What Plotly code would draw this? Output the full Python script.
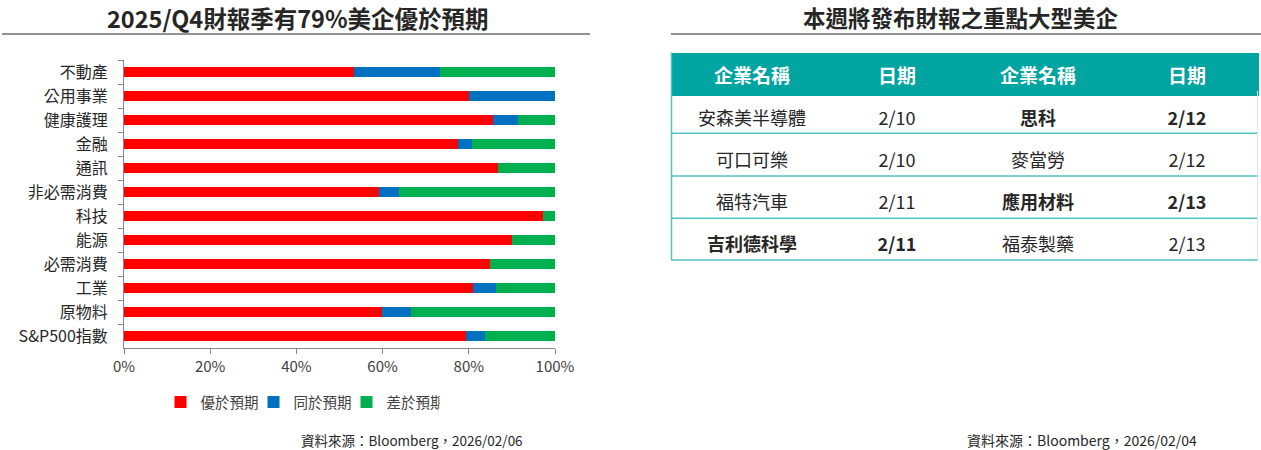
import plotly.graph_objects as go

# ---------------- data ----------------
categories = ["不動產", "公用事業", "健康護理", "金融", "通訊", "非必需消費",
              "科技", "能源", "必需消費", "工業", "原物料", "S&P500指數"]
beat = [53.3, 80.0, 85.7, 77.4, 86.8, 59.1, 97.3, 90.0, 85.0, 80.9, 59.9, 79.4]
inline = [20.0, 20.0, 5.7, 3.3, 0.0, 4.6, 0.0, 0.0, 0.0, 5.3, 6.8, 4.4]
miss = [26.7, 0.0, 8.6, 19.3, 13.2, 36.3, 2.7, 10.0, 15.0, 13.8, 33.3, 16.2]
series_names = ["優於預期", "同於預期", "差於預期"]
x_ticks = [0, 20, 40, 60, 80, 100]
x_tick_text = ["0%", "20%", "40%", "60%", "80%", "100%"]

left_title = "2025/Q4財報季有79%美企優於預期"
right_title = "本週將發布財報之重點大型美企"
left_source = "資料來源：Bloomberg，2026/02/06"
right_source = "資料來源：Bloomberg，2026/02/04"

table_header = ["企業名稱", "日期", "企業名稱", "日期"]
company_a = ["安森美半導體", "可口可樂", "福特汽車", "吉利德科學"]
date_a = ["2/10", "2/10", "2/11", "2/11"]
company_b = ["思科", "麥當勞", "應用材料", "福泰製藥"]
date_b = ["2/12", "2/12", "2/13", "2/13"]
bold_a = [False, False, False, True]
bold_b = [True, False, True, False]

# ---------------- style ----------------
W, H = 1261, 450
FONT = "Noto Sans CJK TC"
RED, BLUE, GREEN = "#FF0000", "#0070C0", "#00B050"
TEAL = "#00A4A0"
TEAL_LINE = "#4FC3C1"
TXT = "#262626"
AXIS = "#868686"


def px_x(p):
    return p / W


def px_y(p):
    return 1 - p / H


def fmt(s, flag):
    return f"<b>{s}</b>" if flag else f"<span>{s}</span>"


fig = go.Figure()
for name, vals, col in zip(series_names, [beat, inline, miss], [RED, BLUE, GREEN]):
    fig.add_trace(go.Bar(
        y=categories, x=vals, name=name, orientation="h",
        marker=dict(color=col, line=dict(width=0)),
        xaxis="x", yaxis="y", hoverinfo="x+y+name",
    ))

# table
tbl_x0, tbl_x1 = 671, 1259
fig.add_trace(go.Table(
    domain=dict(x=[px_x(tbl_x0), px_x(tbl_x1)], y=[px_y(300), px_y(52.5)]),
    columnwidth=[162, 128, 154, 144],
    header=dict(
        values=[f"<b>{h}</b>" for h in table_header],
        fill_color=TEAL, line=dict(color=TEAL, width=0),
        font=dict(family=FONT, size=19, color="white"),
        align="center", height=39,
    ),
    cells=dict(
        values=[[fmt(s, f) for s, f in zip(company_a, bold_a)],
                [fmt(s, f) for s, f in zip(date_a, bold_a)],
                [fmt(s, f) for s, f in zip(company_b, bold_b)],
                [fmt(s, f) for s, f in zip(date_b, bold_b)]],
        fill_color="white", line=dict(color="white", width=0),
        font=dict(family=FONT, size=18, color=TXT),
        align="center", height=42.1,
    ),
))

shapes = [
    dict(type="line", xref="paper", yref="paper", x0=px_x(2), x1=px_x(590),
         y0=px_y(34), y1=px_y(34), line=dict(color=TXT, width=1)),
    dict(type="line", xref="paper", yref="paper", x0=px_x(671), x1=px_x(1261),
         y0=px_y(34), y1=px_y(34), line=dict(color=TXT, width=1)),
]
# table row separators and borders
for yy in [133.3, 176.0, 218.2, 260.0]:
    shapes.append(dict(type="line", xref="paper", yref="paper",
                       x0=px_x(tbl_x0), x1=px_x(tbl_x1 - 1), y0=px_y(yy), y1=px_y(yy),
                       line=dict(color=TEAL_LINE, width=1.5)))
shapes.append(dict(type="line", xref="paper", yref="paper",
                   x0=px_x(671.5), x1=px_x(671.5), y0=px_y(52.5), y1=px_y(260),
                   line=dict(color=TEAL_LINE, width=1.5)))
shapes.append(dict(type="line", xref="paper", yref="paper",
                   x0=px_x(tbl_x1 - 1.5), x1=px_x(tbl_x1 - 1.5), y0=px_y(91), y1=px_y(260),
                   line=dict(color="#CDEDEC", width=1)))

annotations = [
    dict(text=f"<b>{left_title}</b>", x=px_x(298), y=px_y(18), xref="paper", yref="paper",
         showarrow=False, xanchor="center", yanchor="middle",
         font=dict(family=FONT, size=23.5, color=TXT)),
    dict(text=f"<b>{right_title}</b>", x=px_x(961), y=px_y(17), xref="paper", yref="paper",
         showarrow=False, xanchor="center", yanchor="middle",
         font=dict(family=FONT, size=22.5, color=TXT)),
    dict(text=left_source, x=px_x(412), y=px_y(440), xref="paper", yref="paper",
         showarrow=False, xanchor="center", yanchor="middle",
         font=dict(family=FONT, size=13.5, color=TXT)),
    dict(text=right_source, x=px_x(1082), y=px_y(440), xref="paper", yref="paper",
         showarrow=False, xanchor="center", yanchor="middle",
         font=dict(family=FONT, size=14, color=TXT)),
]

fig.update_layout(
    width=W, height=H, autosize=False,
    margin=dict(l=0, r=0, t=0, b=0, pad=0, autoexpand=False),
    paper_bgcolor="white", plot_bgcolor="white",
    barmode="stack", bargap=0.62,
    font=dict(family=FONT, color=TXT),
    xaxis=dict(
        domain=[px_x(124), px_x(555)], anchor="y", automargin=False,
        range=[0, 100], tickvals=x_ticks, ticktext=x_tick_text,
        showgrid=False, zeroline=False,
        showline=True, linecolor=AXIS, linewidth=1,
        ticks="outside", ticklen=5, tickcolor=AXIS,
        tickfont=dict(family=FONT, size=15, color="#404040"),
        fixedrange=True,
    ),
    yaxis=dict(
        domain=[px_y(348), px_y(60)], anchor="x", automargin=False,
        categoryorder="array", categoryarray=categories, autorange="reversed",
        showgrid=False, zeroline=False,
        showline=True, linecolor=AXIS, linewidth=1,
        ticks="outside", ticklen=5, tickcolor=AXIS, tickson="boundaries",
        ticklabelstandoff=12,
        tickfont=dict(family=FONT, size=16, color=TXT),
        fixedrange=True,
    ),
    legend=dict(
        orientation="h", x=px_x(300), y=px_y(402), xanchor="center", yanchor="middle",
        font=dict(family=FONT, size=14.5, color="#404040"),
        itemwidth=30, entrywidth=48, entrywidthmode="pixels",
        traceorder="normal", bgcolor="rgba(0,0,0,0)",
    ),
    shapes=shapes,
    annotations=annotations,
    showlegend=True,
)

fig.write_html(
    "out.html",
    config={"displayModeBar": False},
    post_script="document.body.style.margin='0';document.body.style.overflow='hidden';",
)
